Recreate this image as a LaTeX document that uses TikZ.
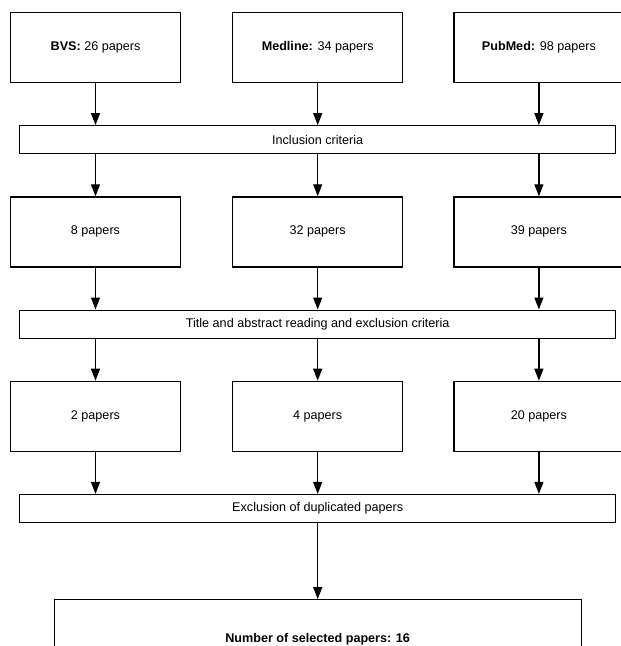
\documentclass[tikz,border=0pt]{standalone}
\usepackage{fontspec}
\setmainfont{Liberation Sans}
\usetikzlibrary{positioning}
\usetikzlibrary{arrows.meta}

\begin{document}
\begin{tikzpicture}
	[x=1pt, y=1pt,
	 paperbox/.style={rectangle, draw=black, line width=1.2pt, minimum width=170pt, minimum height=70pt, inner sep=0pt, font=\fontsize{12.6}{14}\selectfont},
	 stagebar/.style={rectangle, draw=black, line width=1.2pt, minimum width=596pt, minimum height=28pt, inner sep=0pt, font=\fontsize{12.6}{14}\selectfont},
	 flow/.style={-{Triangle[length=12pt,width=9pt]}, line width=1.2pt},
	 node distance=42pt and 51pt]
	\useasboundingbox (0,0) rectangle (621,-646);
	% databases
	\node[paperbox] (bvs) at (95.5,-47.5) {\textbf{BVS:} 26 papers};
	\node[paperbox, right=of bvs] (medline) {\textbf{Medline:} 34 papers};
	\node[paperbox, right=50pt of medline] (pubmed) {\textbf{PubMed:} 98 papers};
	\node[stagebar, below=of medline] (inclusion) {Inclusion criteria};
	% after inclusion
	\node[paperbox, below=of inclusion.south -| bvs] (bvsa) {8 papers};
	\node[paperbox, below=of inclusion.south -| medline] (medlinea) {32 papers};
	\node[paperbox, below=of inclusion.south -| pubmed] (pubmeda) {39 papers};
	\node[stagebar, below=of medlinea] (reading) {Title and abstract reading and exclusion criteria};
	% after reading
	\node[paperbox, below=of reading.south -| bvs] (bvsb) {2 papers};
	\node[paperbox, below=of reading.south -| medline] (medlineb) {4 papers};
	\node[paperbox, below=of reading.south -| pubmed] (pubmedb) {20 papers};
	\node[stagebar, below=of medlineb] (duplicates) {Exclusion of duplicated papers};
	\node[paperbox, minimum width=527pt, minimum height=80pt, below=76pt of duplicates] (selected) {\textbf{Number of selected papers: 16}};
	% arrows
	\foreach \a/\b in {bvs/bvsa, medline/medlinea, pubmed/pubmeda}{
		\draw[flow] (\a) -- (\a |- inclusion.north);
		\draw[flow] (\b |- inclusion.south) -- (\b);
	}
	\foreach \a/\b in {bvsa/bvsb, medlinea/medlineb, pubmeda/pubmedb}{
		\draw[flow] (\a) -- (\a |- reading.north);
		\draw[flow] (\b |- reading.south) -- (\b);
	}
	\foreach \a in {bvsb, medlineb, pubmedb}
		\draw[flow] (\a) -- (\a |- duplicates.north);
	\draw[flow] (duplicates) -- (selected);
\end{tikzpicture}
\end{document}
